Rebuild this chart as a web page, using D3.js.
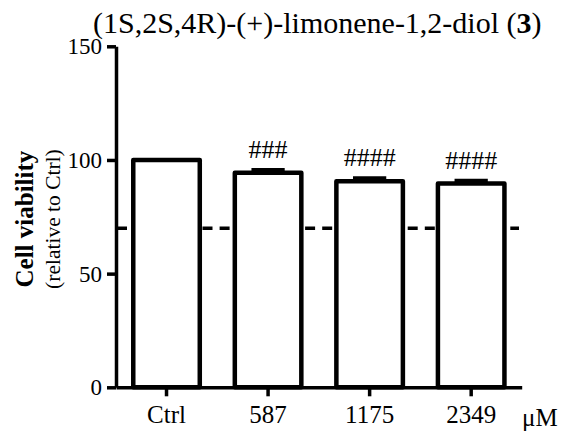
<!DOCTYPE html>
<html>
<head>
<meta charset="utf-8">
<script src="https://cdn.jsdelivr.net/npm/d3@7"></script>
<style>
  html, body { margin: 0; padding: 0; background: #fff; }
  svg { display: block; }
  text { font-family: "Liberation Serif", "Times New Roman", serif; fill: #000; }
</style>
</head>
<body>
<script>
// Cell viability (% of control) after treatment with the diol
const categories = ["Ctrl", "587", "1175", "2349"];
const means = [100, 94.4, 90.6, 89.6];
const sems = [0, 1.2, 1.4, 1.3];
const marks = ["", "###", "####", "####"];
const yTicks = [0, 50, 100, 150];
const threshold = 70;

const W = 564, H = 434;
const svg = d3.select("body").append("svg").attr("width", W).attr("height", H);
svg.append("rect").attr("width", W).attr("height", H).attr("fill", "#fff");

const y = d3.scaleLinear().domain([0, 150]).range([387.3, 46.3]);
const x = d3.scaleBand().domain(categories).range([116, 521.7])
  .paddingInner(0.345).paddingOuter(0.17);

const g = svg.append("g");

// dashed 70% reference line (drawn first, bars cover it)
g.append("line")
  .attr("x1", 117).attr("x2", 519)
  .attr("y1", y(threshold)).attr("y2", y(threshold))
  .attr("stroke", "#000").attr("stroke-width", 3.5)
  .attr("stroke-dasharray", "10 7.1");

// bars
g.selectAll("rect.bar").data(categories).join("rect")
  .attr("class", "bar")
  .attr("x", d => x(d))
  .attr("width", x.bandwidth())
  .attr("y", (d, i) => y(means[i]))
  .attr("height", (d, i) => y(0) - y(means[i]))
  .attr("fill", "#fff").attr("stroke", "#000").attr("stroke-width", 4.5)
  .attr("stroke-linejoin", "round");

// error bars (upper half only)
const capW = x.bandwidth() * 0.5;
const errIdx = d3.range(categories.length).filter(i => sems[i] > 0);
const cx = i => x(categories[i]) + x.bandwidth() / 2;
g.selectAll("line.err").data(errIdx).join("line")
  .attr("class", "err")
  .attr("x1", i => cx(i) - capW / 2)
  .attr("x2", i => cx(i) + capW / 2)
  .attr("y1", i => y(means[i] + sems[i]))
  .attr("y2", i => y(means[i] + sems[i]))
  .attr("stroke", "#000").attr("stroke-width", 4);
g.selectAll("line.errv").data(errIdx).join("line")
  .attr("class", "errv")
  .attr("x1", cx).attr("x2", cx)
  .attr("y1", i => y(means[i] + sems[i]))
  .attr("y2", i => y(means[i]))
  .attr("stroke", "#000").attr("stroke-width", 4);

// significance marks
g.selectAll("text.sig").data(d3.range(categories.length)).join("text")
  .attr("class", "sig")
  .attr("x", cx)
  .attr("y", i => y(means[i] + sems[i]) - 12)
  .attr("text-anchor", "middle")
  .attr("font-size", 26)
  .text(i => marks[i]);

// y axis
const yAxis = g.append("g").attr("transform", "translate(116,0)")
  .call(d3.axisLeft(y).tickValues(yTicks).tickSize(9).tickSizeOuter(0).tickPadding(5));
yAxis.select(".domain").attr("stroke-width", 3.5);
yAxis.selectAll(".tick line").attr("stroke-width", 3.5);
yAxis.selectAll(".tick text").attr("font-size", 23).attr("font-family", null);

// x axis
const xAxis = g.append("g").attr("transform", `translate(0,${y(0)})`)
  .call(d3.axisBottom(x).tickSize(9).tickSizeOuter(0).tickPadding(9));
xAxis.select(".domain").attr("stroke-width", 3.5);
xAxis.selectAll(".tick line").attr("stroke-width", 3.5);
xAxis.selectAll(".tick text").attr("font-size", 25).attr("font-family", null);

svg.append("text").attr("x", 522).attr("y", 426).attr("font-size", 25).text("μM");

// axis titles
svg.append("text")
  .attr("transform", `translate(33,${y(74)}) rotate(-90)`)
  .attr("text-anchor", "middle").attr("font-size", 25).attr("font-weight", "bold")
  .text("Cell viability");
svg.append("text")
  .attr("transform", `translate(60,${y(74)}) rotate(-90)`)
  .attr("text-anchor", "middle").attr("font-size", 21.5)
  .text("(relative to Ctrl)");

// title
const title = svg.append("text").attr("x", 93).attr("y", 33).attr("font-size", 30);
title.append("tspan").text("(1S,2S,4R)-(+)-limonene-1,2-diol (");
title.append("tspan").attr("font-weight", "bold").text("3");
title.append("tspan").text(")");
</script>
</body>
</html>
